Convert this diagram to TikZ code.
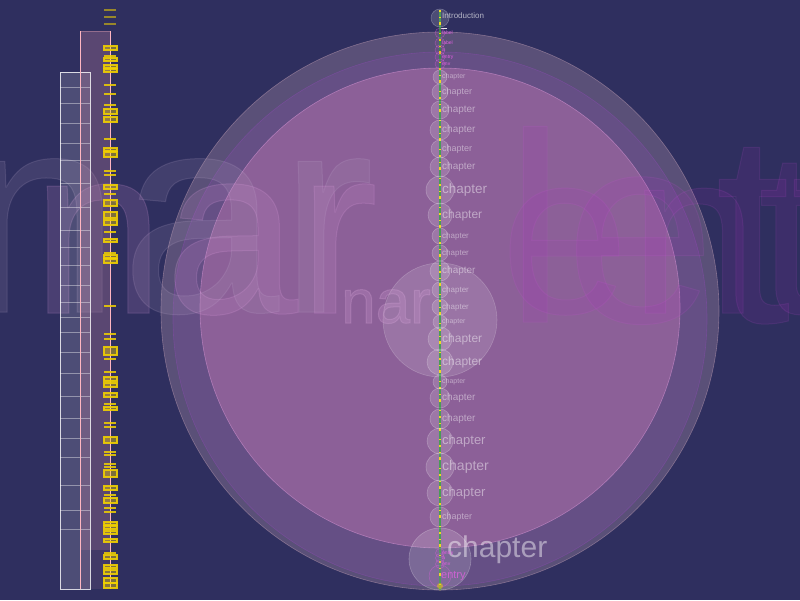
\documentclass[tikz,border=0pt]{standalone}
\usepackage{fontspec}
\setmainfont{Liberation Sans}
\definecolor{bgc}{HTML}{2F2F5F}
\definecolor{cone}{HTML}{BE9DB2}
\definecolor{ctwo}{HTML}{914BB9}
\definecolor{cthree}{HTML}{B371AB}
\definecolor{gtext}{HTML}{B0A0C0}
\definecolor{ptext}{HTML}{D090D0}
\definecolor{mtext}{HTML}{D8A0D8}
\definecolor{rtext}{HTML}{B428C8}
\definecolor{pinkrect}{HTML}{C080A0}
\definecolor{pinkline}{HTML}{FFB6C1}
\definecolor{ylw}{HTML}{F0D000}
\definecolor{grn}{HTML}{2A8A3A}
\definecolor{mag}{HTML}{E060E0}
\newcommand{\outl}[2]{\special{pdf:literal direct 2 Tr 1 w #1 RG}#2\special{pdf:literal direct 0 Tr}}
\tikzset{
  bigword/.style={anchor=base west, inner sep=0pt},
  chapc/.style={circle, inner sep=0pt, fill=white, fill opacity=0.15, draw=white, draw opacity=0.25, line width=0.6pt},
  chapt/.style={anchor=west, inner sep=0pt, text=white, text opacity=0.45},
  smallc/.style={circle, inner sep=0pt, draw=mag, draw opacity=0.45, line width=0.5pt, fill=mag, fill opacity=0.08},
  smallt/.style={anchor=west, inner sep=0pt, text=mag, font=\fontsize{5}{5}\selectfont},
  ytick/.style={draw=ylw, line width=1.2pt, draw opacity=0.85},
  ybox/.style={draw=ylw, line width=1.1pt, draw opacity=0.9, fill=ylw, fill opacity=0.4},
  divline/.style={draw=white, draw opacity=0.4, line width=0.7pt}
}
\begin{document}
\begin{tikzpicture}[x=1pt,y=-1pt]
\fill[bgc] (0,0) rectangle (800,600);
\useasboundingbox (0,0) rectangle (800,600);
\clip (0,0) rectangle (800,600);
% big circles
\node[circle, minimum size=558pt, inner sep=0pt, fill=cone, fill opacity=0.3, draw=cone, draw opacity=0.5, line width=0.6pt] (outer) at (440,311) {};
\node[circle, minimum size=534pt, inner sep=0pt, fill=ctwo, fill opacity=0.2, draw=ctwo, draw opacity=0.4, line width=0.6pt] (second) at (440,319) {};
\node[circle, minimum size=480pt, inner sep=0pt, fill=cthree, fill opacity=0.5, draw=ptext, draw opacity=0.6, line width=0.6pt] (pinkc) at (440,308) {};
\node[circle, minimum size=114pt, inner sep=0pt, fill=white, fill opacity=0.13, draw=white, draw opacity=0.2, line width=0.6pt] (midc) at (440,320) {};
% big background words
\node[bigword, text=gtext, opacity=0.15, font=\fontsize{285}{285}\selectfont] (wg) at (-38,312) {\outl{0.8 0.72 0.86}{nar}};
\node[bigword, text=ptext, opacity=0.17, font=\fontsize{240}{240}\selectfont] (wp) at (31,313) {\outl{0.92 0.66 0.92}{nar}};
\node[bigword, text=mtext, opacity=0.22, font=\fontsize{62}{62}\selectfont] (wm) at (341,323) {\outl{0.9 0.7 0.9}{nar}};
\node[bigword, text=rtext, opacity=0.11, font=\fontsize{270}{270}\selectfont] (wl) at (505,322) {\outl{0.85 0.35 0.9}{letter}};
\node[bigword, text=rtext, opacity=0.11, font=\fontsize{232}{232}\selectfont] (we) at (500,313) {\outl{0.85 0.35 0.9}{entry}};
% left strip
\fill[white, fill opacity=0.15] (60,72) rectangle (90,589);
\fill[pinkrect, fill opacity=0.3] (80,31) rectangle (110,550);
\fill[pinkrect, fill opacity=0.13] (80,550) rectangle (110,589);
\draw[white, draw opacity=0.8, line width=0.8pt] (60,72) rectangle (90,589);
\foreach \y in {87,103,123,143,160,183,207,230,247,265,285,302,317,332,352,373,396,418,438,457,485,510,529}
  \draw[divline] (60,\y) -- (90,\y);
\draw[pinkline, draw opacity=0.35, line width=0.6pt] (80,31) -- (110,31);
\draw[pinkline, line width=0.9pt] (80,31) -- (80,589);
\draw[pinkline, line width=0.9pt] (110,31) -- (110,589);
% yellow ticks
\foreach \y in {10,17,24}
  \draw[ytick, draw opacity=0.55] (104,\y) -- (116,\y);
\foreach \y in {56,85,94,105,139,171,175,194,232,253,306,334,339,359,372,404,423,427,452,455,464,467,495,508,512,553}
  \draw[ytick] (104,\y) -- (116,\y);
\foreach \a/\b in {46/50,58/61,65/68,69/72,109/114,117/122,148/151,152/157,185/189,200/206,212/218,220/225,239/242,255/258,259/263,347/355,377/381,383/387,393/397,407/410,437/443,470/477,486/490,498/503,522/525,526/529,531/534,539/542,555/559,565/568,570/574,578/583,583/588}
  \draw[ybox] (104,\a) rectangle (117,\b);
% central axis
\coordinate (axtop) at (440,10);
\coordinate (axbot) at (440,590);
\draw[grn, line width=2pt] (axtop) -- (axbot);
\draw[ylw, line width=2pt, dash pattern=on 2pt off 5pt on 1pt off 4pt on 3pt off 8pt on 1pt off 5pt] (axtop) -- (axbot);
% introduction
\node[chapc, minimum size=18pt] (ic) at (440,18) {};
\node[anchor=west, inner sep=0pt, text=white, text opacity=0.65, font=\fontsize{8}{8}\selectfont] (it) at (442,16) {Introduction};
\fill[white, fill opacity=0.9] (441,27.5) rectangle (447,29);
% small magenta labels
\foreach \y/\t [count=\i] in {33/label,43/label,50/a,57/entry,64/env}{
  \node[smallc, minimum size=10pt] (sc\i) at (440,\y) {};
  \node[smallt] (st\i) at (442,\y) {\t};
}
% chapters
\foreach \y/\r/\f [count=\i] in {77/7/7,92/8/9,110/9/10,130/10/10,149/9/9,167/10/10,190/14/13.5,215/12/12,236/8/8,253/8/8,271/10/10,290/8/8,307/8/8,322/7/7,339/12/12,362/13/12,382/7/7,398/10/10,419/10/10,441/13/13,467/14/14,493/13/13,517/10/9}{
  \node[chapc, minimum size={2*\r pt}] (cc\i) at (440,\y) {};
  \node[chapt, font=\fontsize{\f}{\f}\selectfont] (ct\i) at (442,\y) {chapter};
}
\node[chapc, minimum size=62pt] (bigc) at (440,559) {};
\node[chapt, font=\fontsize{30}{30}\selectfont] (bigt) at (447,550) {chapter};
% bottom magenta labels
\foreach \y/\t [count=\i] in {553/entry,558/a,564/env}{
  \node[smallc, minimum size=9pt] (bc\i) at (440,\y) {};
  \node[smallt] (bt\i) at (442,\y) {\t};
}
\node[smallc, minimum size=22pt] (ec) at (440,576) {};
\node[anchor=west, inner sep=0pt, text=mag, text opacity=0.8, font=\fontsize{11}{11}\selectfont] (et) at (441,576) {entry};
\node[circle, minimum size=6pt, inner sep=0pt, fill=ylw, fill opacity=0.5] (yc) at (440,586) {};
\end{tikzpicture}
\end{document}
